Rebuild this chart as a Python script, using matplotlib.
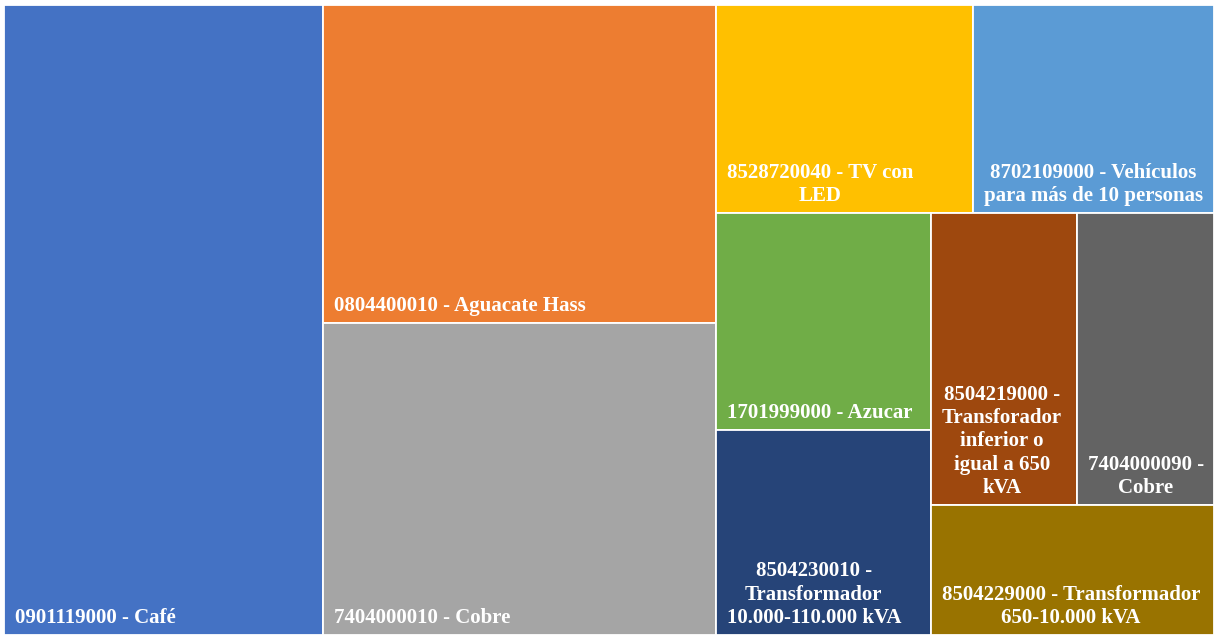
import matplotlib.pyplot as plt
from matplotlib.patches import Rectangle

labels = [
    "0901119000 - Café",
    "0804400010 - Aguacate Hass",
    "7404000010 - Cobre",
    "8528720040 - TV con\nLED",
    "8702109000 - Vehículos\npara más de 10 personas",
    "1701999000 - Azucar",
    "8504230010 -\nTransformador\n10.000-110.000 kVA",
    "8504219000 -\nTransforador\ninferior o\nigual a 650\nkVA",
    "7404000090 -\nCobre",
    "8504229000 - Transformador\n650-10.000 kVA",
]
values = [201.0, 124.7, 122.3, 53.5, 50.1, 46.7, 44.1, 42.6, 40.0, 36.8]
colors = ["#4472C4", "#ED7D31", "#A5A5A5", "#FFC000", "#5B9BD5",
          "#70AD47", "#264478", "#9E480E", "#636363", "#997300"]

# number of items placed in each strip of the treemap
strips = [1, 2, 2, 2, 2, 1]

W, H = 1210.0, 630.0


def layout(vals, x, y, w, h):
    total = sum(vals)
    scale = w * h / total
    rects = []
    i = 0
    for n in strips:
        group = vals[i:i + n]
        area = sum(group) * scale
        if h <= w:
            # vertical strip on the left
            sw = area / h
            yy = y
            for v in group:
                rh = v * scale / sw
                rects.append((x, yy, sw, rh))
                yy += rh
            x += sw
            w -= sw
        else:
            # horizontal strip on the top
            sh = area / w
            xx = x
            for v in group:
                rw = v * scale / sh
                rects.append((xx, y, rw, sh))
                xx += rw
            y += sh
            h -= sh
        i += n
    return rects


fig = plt.figure(figsize=(12.14, 6.35), dpi=100)
ax = fig.add_axes([4 / 1214, 0, W / 1214, H / 635])
ax.set_xlim(0, W)
ax.set_ylim(H, 0)
ax.axis("off")

for (x, y, w, h), lab, c in zip(layout(values, 0, 0, W, H), labels, colors):
    ax.add_patch(Rectangle((x, y), w, h, facecolor=c, edgecolor="white", linewidth=1.3))
    ax.annotate(lab, (x, y + h), xytext=(11, 12), textcoords="offset pixels",
                ha="left", va="baseline", multialignment="center",
                color="white", fontsize=15, fontweight="bold",
                family="Liberation Serif", linespacing=1.22)

fig.savefig("out.png", dpi=100)
